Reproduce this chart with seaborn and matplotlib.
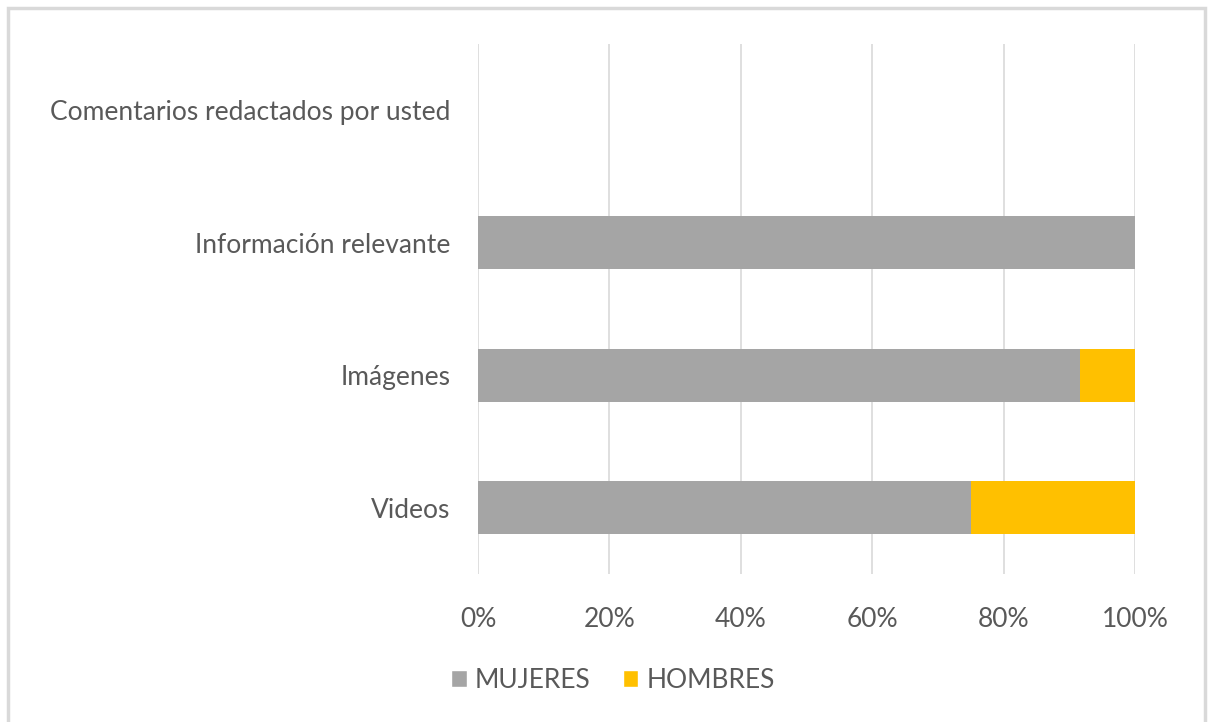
import matplotlib
matplotlib.use("Agg")
import matplotlib.pyplot as plt
import seaborn as sns
import pandas as pd
from matplotlib.patches import Rectangle, Patch
from matplotlib.ticker import PercentFormatter

categories = ["Comentarios redactados por usted", "Información relevante", "Imágenes", "Videos"]
mujeres = [0.0, 100.0, 91.7, 75.0]
hombres = [0.0, 0.0, 8.3, 25.0]
series_names = ["MUJERES", "HOMBRES"]
xticks = [0, 20, 40, 60, 80, 100]

sns.set_theme(style="white")
plt.rcParams['font.family'] = ['Lato', 'DejaVu Sans']

df = pd.DataFrame({"cat": categories, "MUJERES": mujeres, "HOMBRES": hombres})
df["TOTAL"] = df["MUJERES"] + df["HOMBRES"]

fig = plt.figure(figsize=(12.09, 7.22), dpi=100)
W, H = 1209, 722
ax = fig.add_axes([478 / W, 1 - 574 / H, (1135 - 478) / W, (574 - 44) / H])

gray = "#A5A5A5"
gold = "#FFC000"
txt = "#595959"

sns.barplot(data=df, y="cat", x="TOTAL", orient="h", color=gold, width=0.4,
            ax=ax, saturation=1, order=categories, linewidth=0)
sns.barplot(data=df, y="cat", x="MUJERES", orient="h", color=gray, width=0.4,
            ax=ax, saturation=1, order=categories, linewidth=0)

ax.set_xlim(0, 100)
ax.set_xticks(xticks)
ax.xaxis.set_major_formatter(PercentFormatter(decimals=0))
ax.grid(axis="x", color="#D9D9D9", linewidth=1.2)
ax.set_axisbelow(True)
for s in ax.spines.values():
    s.set_visible(False)
ax.set_xlabel("")
ax.set_ylabel("")
ax.tick_params(axis="x", colors=txt, labelsize=19, pad=24, length=0)
ax.tick_params(axis="y", colors=txt, labelsize=19, pad=20, length=0)

handles = [Patch(facecolor=gray, label=series_names[0]), Patch(facecolor=gold, label=series_names[1])]
fig.legend(handles=handles, loc="center", bbox_to_anchor=(613 / W, 1 - 680 / H), ncol=2,
           frameon=False, fontsize=19, labelcolor=txt, handlelength=0.6, handleheight=0.6,
           handletextpad=0.3, columnspacing=1.2)

fig.patches.append(Rectangle((8 / W, -0.05), (1205 - 8) / W, 1 - 8 / H + 0.05,
                             transform=fig.transFigure, fill=False,
                             edgecolor="#D9D9D9", linewidth=2.5))

fig.savefig("out.png", dpi=100, facecolor="white")
